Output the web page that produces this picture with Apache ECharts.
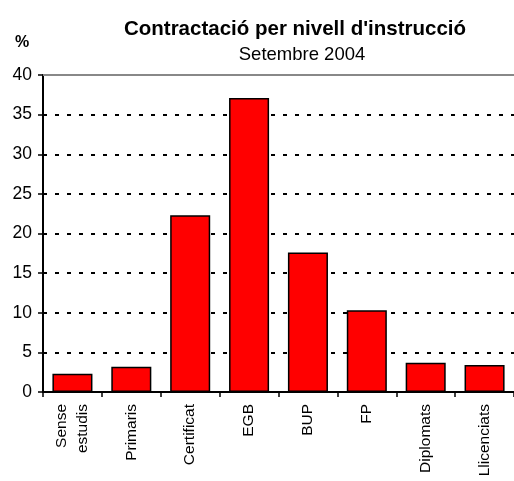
<!DOCTYPE html>
<html>
<head>
<meta charset="utf-8">
<script src="https://cdn.jsdelivr.net/npm/echarts@6/dist/echarts.min.js"></script>
<style>
html, body { margin: 0; padding: 0; background: #fff; }
#chart { width: 514px; height: 481px; }
</style>
</head>
<body>
<div id="chart"></div>
<script>
var categories = ['Sense\nestudis', 'Primaris', 'Certificat', 'EGB', 'BUP', 'FP', 'Diplomats', 'Llicenciats'];
var values = [2.3, 3.2, 22.3, 37.1, 17.6, 10.3, 3.7, 3.4];
var yTicks = { min: 0, max: 40, interval: 5 };

var myChart = echarts.init(document.getElementById('chart'));
var font = 'Arial, "Liberation Sans", sans-serif';

var option = {
    animation: false,
    title: [
        {
            text: "Contractació per nivell d'instrucció",
            left: 290, top: 14, textAlign: 'center',
            textStyle: { fontFamily: font, fontSize: 20.5, fontWeight: 'bold', color: '#000' }
        },
        {
            text: 'Setembre 2004',
            left: 297, top: 40, textAlign: 'center',
            textStyle: { fontFamily: font, fontSize: 18.5, fontWeight: 'normal', color: '#000' }
        },
        {
            text: '%',
            left: 10, top: 30,
            textStyle: { fontFamily: font, fontSize: 16, fontWeight: 'bold', color: '#000' }
        }
    ],
    grid: { left: 43, right: 0, top: 75, bottom: 89 },
    xAxis: {
        type: 'category',
        data: categories,
        axisLine: { lineStyle: { color: '#000', width: 2 } },
        axisTick: { show: true, length: 5, lineStyle: { color: '#000', width: 1.5 } },
        axisLabel: {
            rotate: 90, fontFamily: font, fontSize: 15.5, color: '#000',
            margin: 12, lineHeight: 21
        }
    },
    yAxis: {
        type: 'value',
        min: yTicks.min, max: yTicks.max, interval: yTicks.interval,
        axisLine: { show: true, lineStyle: { color: '#000', width: 2 } },
        axisTick: { show: true, length: 5, lineStyle: { color: '#000', width: 1.5 } },
        axisLabel: { fontFamily: font, fontSize: 17.5, color: '#000', margin: 11 },
        splitLine: { show: true, lineStyle: { color: '#000', width: 2, type: [4, 8] } }
    },
    series: [{
        type: 'bar',
        data: values,
        barCategoryGap: '32%',
        itemStyle: { color: '#ff0000', borderColor: '#000', borderWidth: 1.5 },
        markLine: {
            silent: true, symbol: 'none', label: { show: false },
            lineStyle: { color: '#888', width: 2, type: 'solid' },
            data: [{ yAxis: 40 }]
        }
    }]
};
myChart.setOption(option);
</script>
</body>
</html>
